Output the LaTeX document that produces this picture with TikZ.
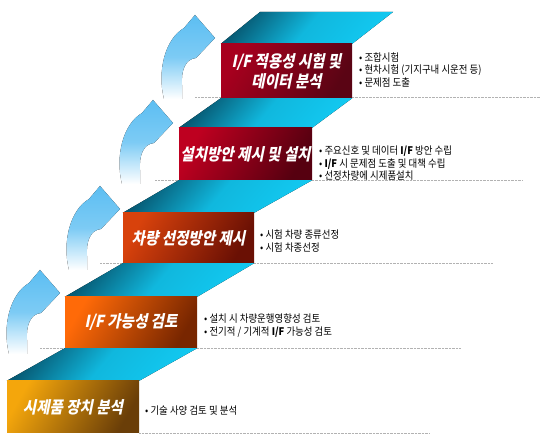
\documentclass[tikz,border=0pt]{standalone}
\usepackage{fontspec}
\newfontfamily\krlabel[FakeSlant=0.2,FakeStretch=0.88]{Noto Sans CJK KR}
\newfontfamily\krtext[FakeStretch=0.9]{Noto Sans CJK KR}
\definecolor{boxAl}{HTML}{F4A60C}\definecolor{boxAd}{HTML}{6A3E08}
\definecolor{boxBl}{HTML}{FF6A08}\definecolor{boxBd}{HTML}{782600}
\definecolor{boxCl}{HTML}{D8420C}\definecolor{boxCd}{HTML}{6A1004}
\definecolor{boxDl}{HTML}{BE0020}\definecolor{boxDd}{HTML}{560010}
\definecolor{boxEl}{HTML}{A8001E}\definecolor{boxEd}{HTML}{5A0414}
\definecolor{facedark}{HTML}{075A74}\definecolor{facelight}{HTML}{12C8F0}
\definecolor{arrowblue}{HTML}{5CBEF2}
\pgfdeclarelayer{background}
\pgfsetlayers{background,main}
\begin{document}
\begin{tikzpicture}[x=1pt,y=-1pt,
  lbl/.style={inner sep=0pt, text=white, align=center, font=\krlabel\bfseries\fontsize{16.5}{20}\selectfont},
  note/.style={anchor=west, inner sep=0pt, align=left, text=black, font=\krtext\fontsize{10.5}{12.5}\selectfont},
  guide/.style={draw=black!30, line width=0.5pt, dash pattern=on 0.6pt off 0.8pt},
  face/.style={top color=facedark, bottom color=facelight, middle color=facelight!85!facedark, shading angle=50},
  arr/.style={top color=arrowblue, bottom color=white, middle color=arrowblue!80, shading angle=0},
]
\useasboundingbox (0,0) rectangle (549,443);

% step boxes
\node[lbl, minimum width=132pt, minimum height=52pt, top color=boxAl, bottom color=boxAd, shading angle=60] (b1) at (73,407) {시제품 장치 분석};
\node[lbl, minimum width=132pt, minimum height=51pt, top color=boxBl, bottom color=boxBd, shading angle=60] (b2) at (131,322.5) {I/F 가능성 검토};
\node[lbl, minimum width=131pt, minimum height=50pt, top color=boxCl, bottom color=boxCd, shading angle=60] (b3) at (188.5,238) {차량 선정방안 제시};
\node[lbl, minimum width=133pt, minimum height=52pt, top color=boxDl, bottom color=boxDd, shading angle=60] (b4) at (245.5,154) {설치방안 제시 및 설치};
\node[lbl, minimum width=131pt, minimum height=54pt, top color=boxEl, bottom color=boxEd, shading angle=60] (b5) at (286.5,71) {I/F 적용성 시험 및\\데이터 분석};

\coordinate (t5l) at (260,12);
\coordinate (t5r) at (393,12);

% notes
\node[note] (n1) at (145,411) {• 기술 사양 검토 및 분석};
\node[note] (n2) at (204,325.5) {• 설치 시 차량운행영향성 검토\\• 전기적 / 기계적 {\bfseries I/F} 가능성 검토};
\node[note] (n3) at (260,241) {• 시험 차량 종류선정\\• 시험 차종선정};
\node[note] (n4) at (319,163.5) {• 주요신호 및 데이터 {\bfseries I/F} 방안 수립\\• {\bfseries I/F} 시 문제점 도출 및 대책 수립\\• 선정차량에 시제품설치};
\node[note] (n5) at (359,70) {• 조합시험\\• 현차시험 (기지구내 시운전 등)\\• 문제점 도출};

\begin{pgfonlayer}{background}
% guide lines
\draw[guide] (139,433) -- (430,433);
\draw[guide] (40,348) -- (461,348);
\draw[guide] (100,263) -- (493,263);
\draw[guide] (155,180) -- (522,180);
\draw[guide] (195,97) -- (540,97);
% top faces
\fill[face] (b1.north west) -- (b1.north east) -- (b2.south east) -- (b2.south west) -- cycle;
\fill[face] (b2.north west) -- (b2.north east) -- (b3.south east) -- (b3.south west) -- cycle;
\fill[face] (b3.north west) -- (b3.north east) -- (b4.south east) -- (b4.south west) -- cycle;
\fill[face] (b4.north west) -- (b4.north east) -- (b5.south east) -- (b5.south west) -- cycle;
\fill[face] (b5.north west) -- (b5.north east) -- (t5r) -- (t5l) -- cycle;
% curved arrows
\foreach \ax/\ay in {40/270,100/186,153/100,195/15}{
  \fill[arr, shift={(\ax,\ay)}] (0,0) -- (20,23) -- (1,43)
     .. controls (-10,44) and (-14,56) .. (-13,70) -- (-13,84) -- (-31,84)
     .. controls (-38,56) and (-30,24) .. (-11,13) -- cycle;
}
\end{pgfonlayer}
\end{tikzpicture}
\end{document}
